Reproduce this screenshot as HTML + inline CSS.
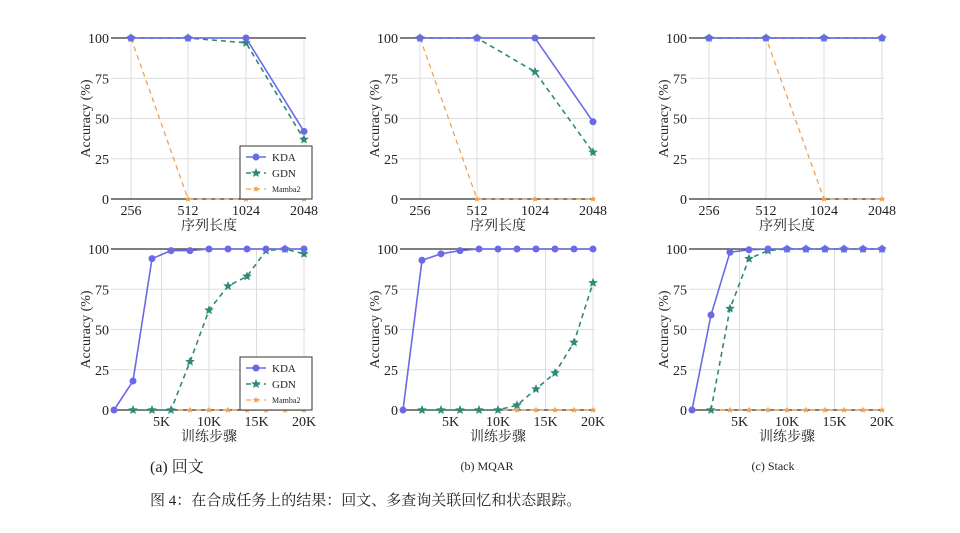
<!DOCTYPE html>
<html><head><meta charset="utf-8"><style>
body{margin:0;background:#fff}
svg text{font-family:"Liberation Serif","Noto Serif CJK SC",serif;fill:#222}
</style></head><body>
<svg id="s" width="960" height="528" xmlns="http://www.w3.org/2000/svg"></svg>
<script>
const S=document.getElementById('s');let h='';
const KC='#6a6ae6',GC='#2e8a78',MC='#f0a252';
function star(x,y,r,c){let p=[];for(let i=0;i<10;i++){const a=-Math.PI/2+i*Math.PI/5,rr=i%2?r*0.45:r;p.push((x+rr*Math.cos(a)).toFixed(1)+','+(y+rr*Math.sin(a)).toFixed(1));}return `<polygon points="${p.join(' ')}" fill="${c}"/>`;}
function panel(ox,top,xs,data,ticks,xlabel,legend){
 const y0=top+161,yy=v=>y0-v*1.61;
 const L=ox+111,R=ox+306;
 // grid
 for(const t of ticks)h+=`<line x1="${t[0]}" y1="${top}" x2="${t[0]}" y2="${y0}" stroke="#ddd" stroke-width="1"/>`;
 for(const v of [25,50,75])h+=`<line x1="${L}" y1="${yy(v)}" x2="${R}" y2="${yy(v)}" stroke="#ddd" stroke-width="1"/>`;
 h+=`<line x1="${L}" y1="${top}" x2="${R}" y2="${top}" stroke="#333" stroke-width="1.2"/>`;
 h+=`<line x1="${L}" y1="${y0}" x2="${R}" y2="${y0}" stroke="#333" stroke-width="1.2"/>`;
 for(const v of [0,25,50,75,100])h+=`<text x="${ox+109}" y="${yy(v)+5}" font-size="14" text-anchor="end">${v}</text>`;
 for(const t of ticks)h+=`<text x="${t[0]}" y="${y0+16}" font-size="14" text-anchor="middle">${t[1]}</text>`;
 h+=`<text x="${ox+209}" y="${y0+31}" font-size="14" text-anchor="middle">${xlabel}</text>`;
 h+=`<text transform="translate(${ox+90},${yy(50)}) rotate(-90)" font-size="14" text-anchor="middle">Accuracy (%)</text>`;
 const [K,G,M]=data;
 const pts=(a,o)=>a.map((v,i)=>v==null?null:[xs[i+o],yy(v)]).filter(p=>p);
 const line=(p,c,d,w)=>`<polyline points="${p.map(q=>q.join(',')).join(' ')}" fill="none" stroke="${c}" stroke-width="${w}" ${d?'stroke-dasharray="5,4"':''}/>`;
 const m=pts(M[0],M[1]);h+=line(m,MC,1,1.3);m.forEach(p=>h+=star(p[0],p[1],3.5,MC));
 const g=pts(G[0],G[1]);h+=line(g,GC,1,1.6);g.forEach(p=>h+=star(p[0],p[1],5,GC));
 const k=pts(K[0],K[1]);h+=line(k,KC,0,1.6);k.forEach(p=>h+=`<circle cx="${p[0]}" cy="${p[1]}" r="3.5" fill="${KC}"/>`);
 if(legend){const lx=ox+240,ly=y0-53;
  h+=`<rect x="${lx}" y="${ly}" width="72" height="53" fill="#fff" stroke="#333" stroke-width="1"/>`;
  h+=`<line x1="${lx+6}" y1="${ly+11}" x2="${lx+26}" y2="${ly+11}" stroke="${KC}" stroke-width="1.6"/><circle cx="${lx+16}" cy="${ly+11}" r="3.5" fill="${KC}"/><text x="${lx+32}" y="${ly+15}" font-size="11">KDA</text>`;
  h+=`<line x1="${lx+6}" y1="${ly+27}" x2="${lx+26}" y2="${ly+27}" stroke="${GC}" stroke-width="1.6" stroke-dasharray="5,4"/>${star(lx+16,ly+27,5,GC)}<text x="${lx+32}" y="${ly+31}" font-size="11">GDN</text>`;
  h+=`<line x1="${lx+6}" y1="${ly+43}" x2="${lx+26}" y2="${ly+43}" stroke="${MC}" stroke-width="1.3" stroke-dasharray="5,4"/>${star(lx+16,ly+43,3.5,MC)}<text x="${lx+32}" y="${ly+46}" font-size="8" fill="#555">Mamba2</text>`;}
}
const offs=[0,289,578];
const topData=[
 [[[100,100,100,42],0],[[100,100,97,37],0],[[100,0,0,0],0]],
 [[[100,100,100,48],0],[[100,100,79,29],0],[[100,0,0,0],0]],
 [[[100,100,100,100],0],[[100,100,100,100],0],[[100,100,0,0],0]]];
const botData=[
 [[[0,18,94,99,99,100,100,100,100,100,100],0],[[0,0,0,30,62,77,83,99,100,97],1],[[0,0,0,0,0,0,0,0,0,0],1]],
 [[[0,93,97,99,100,100,100,100,100,100,100],0],[[0,0,0,0,0,3,13,23,42,79],1],[[0,0,0,0,0,0,0,0,0,0],1]],
 [[[0,59,98,99.5,100,100,100,100,100,100,100],0],[[0,63,94,99,100,100,100,100,100,100],1],[[0,0,0,0,0,0,0,0,0,0],1]]];
offs.forEach((o,i)=>{
 const xt=[131,188,246,304].map(v=>v+o);
 panel(o,38,xt,topData[i],[[xt[0],'256'],[xt[1],'512'],[xt[2],'1024'],[xt[3],'2048']],'序列长度',i==0);
 const xb=[];for(let j=0;j<=10;j++)xb.push(114+o+j*19);
 panel(o,249,xb,botData[i],[[161.5+o,'5K'],[209+o,'10K'],[256.5+o,'15K'],[304+o,'20K']],'训练步骤',i==0);
});
h+=`<text x="150" y="472" font-size="16">(a) 回文</text>`;
h+=`<text x="487" y="470" font-size="12" text-anchor="middle">(b) MQAR</text>`;
h+=`<text x="773" y="470" font-size="12" text-anchor="middle">(c) Stack</text>`;
h+=`<text x="150" y="505" font-size="15">图 4：在合成任务上的结果：回文、多查询关联回忆和状态跟踪。</text>`;
S.innerHTML=h;
</script>
</body></html>
